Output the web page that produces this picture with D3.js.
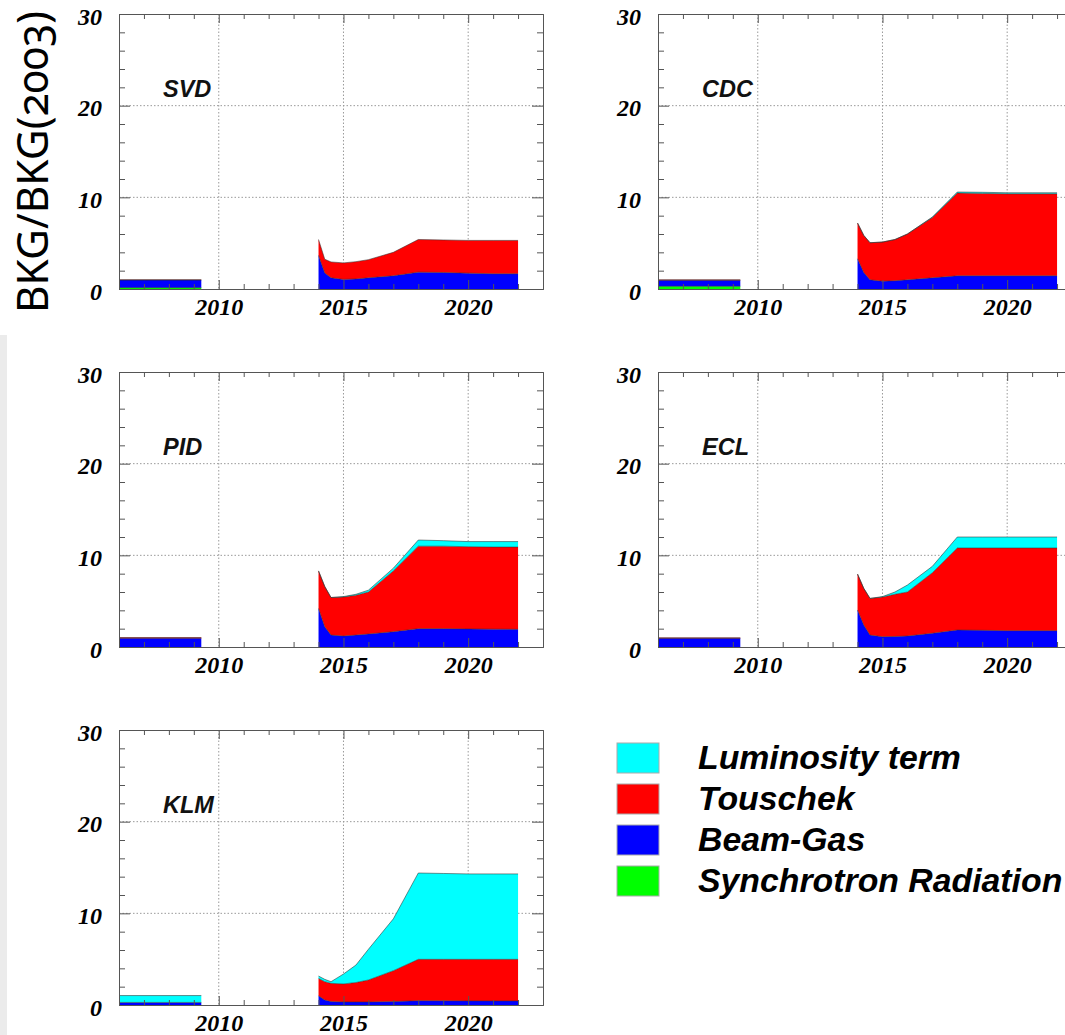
<!DOCTYPE html>
<html><head><meta charset="utf-8">
<script src="https://cdn.jsdelivr.net/npm/d3@7"></script>
<style>body{margin:0;background:#fff;} svg{display:block}</style>
</head><body><svg id="c" width="1065" height="1035"></svg>
<script>
// ---------------- data ----------------
const detectors = ["SVD", "CDC", "PID", "ECL", "KLM"];
const componentKeys = ["sync", "bg", "tous", "lumi"];
const componentLabels = ["Synchrotron Radiation", "Beam-Gas", "Touschek", "Luminosity term"];
const earlyYears = [2006, 2009.3];
const lateYears = [2014, 2014.25, 2014.5, 2015, 2015.5, 2016, 2017, 2018, 2019, 2020, 2021, 2022];
const xMajorTicks = [2010, 2015, 2020];
const xMinorTicks = [2007, 2008, 2009, 2011, 2012, 2013, 2014, 2016, 2017, 2018, 2019, 2021, 2022];
const yMajorTicks = [0, 10, 20, 30];
const yMinorTicks = [2, 4, 6, 8, 12, 14, 16, 18, 22, 24, 26, 28];

// early period values: [sync, beam-gas, touschek, luminosity]
const svdEarly = [0.15, 0.82, 0.04, 0];
const cdcEarly = [0.3, 0.65, 0.05, 0];
const pidEarly = [0, 0.95, 0.08, 0];
const eclEarly = [0, 0.95, 0.05, 0];
const klmEarly = [0, 0.28, 0, 0.75];

// SVD
const svdSync     = [0, 0, 0, 0, 0, 0, 0, 0, 0, 0, 0, 0];
const svdBeamGas  = [3.66, 1.75, 1.22, 1.05, 1.1, 1.22, 1.44, 1.84, 1.8, 1.73, 1.66, 1.66];
const svdTouschek = [1.74, 1.5, 1.73, 1.8, 1.88, 1.98, 2.56, 3.56, 3.55, 3.57, 3.64, 3.64];
const svdLumi     = [0, 0, 0, 0, 0, 0, 0, 0, 0, 0, 0, 0];
// CDC
const cdcSync     = [0, 0, 0, 0, 0, 0, 0, 0, 0, 0, 0, 0];
const cdcBeamGas  = [3.3, 1.8, 1.0, 0.85, 0.9, 1.0, 1.22, 1.44, 1.44, 1.44, 1.44, 1.44];
const cdcTouschek = [3.9, 4.05, 4.05, 4.27, 4.5, 5.0, 6.58, 9.02, 8.99, 8.94, 8.94, 8.94];
const cdcLumi     = [0, 0, 0, 0, 0, 0, 0.05, 0.12, 0.12, 0.12, 0.12, 0.12];
// PID
const pidSync     = [0, 0, 0, 0, 0, 0, 0, 0, 0, 0, 0, 0];
const pidBeamGas  = [4.2, 2.2, 1.3, 1.2, 1.3, 1.42, 1.67, 2.0, 2.0, 1.97, 1.95, 1.93];
const pidTouschek = [4.1, 4.4, 4.1, 4.25, 4.35, 4.58, 6.63, 9.0, 9.0, 8.97, 8.95, 8.97];
const pidLumi     = [0, 0, 0, 0.05, 0.1, 0.2, 0.3, 0.67, 0.6, 0.56, 0.6, 0.6];
// ECL
const eclSync     = [0, 0, 0, 0, 0, 0, 0, 0, 0, 0, 0, 0];
const eclBeamGas  = [4.03, 2.4, 1.3, 1.12, 1.15, 1.2, 1.5, 1.85, 1.82, 1.78, 1.78, 1.78];
const eclTouschek = [3.93, 4.0, 4.0, 4.33, 4.6, 4.8, 6.6, 8.95, 8.98, 9.02, 9.02, 9.02];
const eclLumi     = [0, 0, 0, 0.05, 0.25, 0.76, 0.7, 1.2, 1.2, 1.2, 1.2, 1.2];
// KLM
const klmSync     = [0, 0, 0, 0, 0, 0, 0, 0, 0, 0, 0, 0];
const klmBeamGas  = [1.0, 0.55, 0.37, 0.33, 0.33, 0.33, 0.37, 0.47, 0.46, 0.45, 0.44, 0.44];
const klmTouschek = [1.9, 2.0, 1.99, 1.97, 2.12, 2.4, 3.37, 4.51, 4.52, 4.53, 4.54, 4.54];
const klmLumi     = [0.26, 0.25, 0.18, 1.08, 1.91, 3.35, 5.66, 9.42, 9.37, 9.32, 9.32, 9.32];

// ---------------- drawing ----------------
const svg = d3.select("#c");
svg.append("rect").attr("x", 0).attr("y", 335).attr("width", 7).attr("height", 700).attr("fill", "#ebebeb");

const colors = {sync: "#00ff00", bg: "#0000ff", tous: "#ff0000", lumi: "#00ffff"};
const panels = [
  {name: "SVD", col: 0, row: 0, early: svdEarly, late: {sync: svdSync, bg: svdBeamGas, tous: svdTouschek, lumi: svdLumi}},
  {name: "CDC", col: 1, row: 0, early: cdcEarly, late: {sync: cdcSync, bg: cdcBeamGas, tous: cdcTouschek, lumi: cdcLumi}},
  {name: "PID", col: 0, row: 1, early: pidEarly, late: {sync: pidSync, bg: pidBeamGas, tous: pidTouschek, lumi: pidLumi}},
  {name: "ECL", col: 1, row: 1, early: eclEarly, late: {sync: eclSync, bg: eclBeamGas, tous: eclTouschek, lumi: eclLumi}},
  {name: "KLM", col: 0, row: 2, early: klmEarly, late: {sync: klmSync, bg: klmBeamGas, tous: klmTouschek, lumi: klmLumi}}
];
const colX = [119, 658], rowY = [14, 372, 730], W = 424, H = 275;
const serif = "'Liberation Serif','DejaVu Serif',serif";
const sans = "'Liberation Sans',Arial,Helvetica,sans-serif";

panels.forEach(p => {
  const g = svg.append("g").attr("transform", `translate(${colX[p.col]},${rowY[p.row]})`);
  const x = d3.scaleLinear().domain([2006, 2023]).range([0, W]);
  const y = d3.scaleLinear().domain([0, 30]).range([H, 0]);

  // grid
  g.append("g").selectAll("line").data(xMajorTicks).join("line")
    .attr("x1", d => x(d)).attr("x2", d => x(d)).attr("y1", 0).attr("y2", H)
    .attr("stroke", "#9a9a9a").attr("stroke-width", 1).attr("stroke-dasharray", "1.5,2");
  g.append("g").selectAll("line").data([10, 20]).join("line")
    .attr("x1", 0).attr("x2", W).attr("y1", d => y(d)).attr("y2", d => y(d))
    .attr("stroke", "#9a9a9a").attr("stroke-width", 1).attr("stroke-dasharray", "1.5,2");

  // stacked areas
  const segs = [
    earlyYears.map(yr => ({year: yr, sync: p.early[0], bg: p.early[1], tous: p.early[2], lumi: p.early[3]})),
    lateYears.map((yr, i) => ({year: yr, sync: p.late.sync[i], bg: p.late.bg[i], tous: p.late.tous[i], lumi: p.late.lumi[i]}))
  ];
  const area = d3.area().x(d => x(d.data.year)).y0(d => y(d[0])).y1(d => y(d[1]));
  const line = d3.line().x(d => x(d.data.year)).y(d => y(d[1]));
  segs.forEach(seg => {
    const stacked = d3.stack().keys(componentKeys)(seg);
    stacked.forEach(layer => {
      g.append("path").datum(layer).attr("fill", colors[layer.key]).attr("d", area);
    });
    stacked.forEach(layer => {
      if (d3.max(layer, d => d[1] - d[0]) > 0)
        g.append("path").datum(layer).attr("fill", "none").attr("stroke", "#333")
          .attr("stroke-width", 0.7).attr("stroke-opacity", 0.8).attr("d", line);
    });
  });

  // axes (frame)
  const axisStyle = sel => {
    sel.select(".domain").attr("stroke", "#555");
    sel.selectAll(".tick line").attr("stroke", "#555");
    sel.selectAll("text").attr("font-family", serif).attr("font-weight", "bold")
      .attr("font-style", "italic").attr("font-size", 24).attr("fill", "#000");
  };
  g.append("g").attr("transform", `translate(0,${H})`)
    .call(d3.axisBottom(x).tickValues(xMajorTicks).tickSize(-9).tickSizeOuter(0).tickPadding(9).tickFormat(d3.format("d")))
    .call(axisStyle);
  g.append("g").attr("transform", `translate(0,${H})`)
    .call(d3.axisBottom(x).tickValues(xMinorTicks).tickSize(-5).tickSizeOuter(0).tickFormat(""))
    .call(axisStyle);
  g.append("g")
    .call(d3.axisTop(x).tickValues(xMajorTicks).tickSize(-9).tickSizeOuter(0).tickFormat(""))
    .call(axisStyle);
  g.append("g")
    .call(d3.axisTop(x).tickValues(xMinorTicks).tickSize(-5).tickSizeOuter(0).tickFormat(""))
    .call(axisStyle);
  g.append("g")
    .call(d3.axisLeft(y).tickValues(yMajorTicks).tickSize(-11).tickSizeOuter(0).tickPadding(17).tickFormat(d3.format("d")))
    .call(axisStyle)
    .call(s => s.selectAll("text").attr("dy", "0.42em"));
  g.append("g")
    .call(d3.axisLeft(y).tickValues(yMinorTicks).tickSize(-6).tickSizeOuter(0).tickFormat(""))
    .call(axisStyle);
  g.append("g").attr("transform", `translate(${W},0)`)
    .call(d3.axisRight(y).tickValues(yMajorTicks).tickSize(-11).tickSizeOuter(0).tickFormat(""))
    .call(axisStyle);
  g.append("g").attr("transform", `translate(${W},0)`)
    .call(d3.axisRight(y).tickValues(yMinorTicks).tickSize(-6).tickSizeOuter(0).tickFormat(""))
    .call(axisStyle);

  // detector title
  g.append("text").attr("x", 44).attr("y", 83).text(p.name)
    .attr("font-family", sans).attr("font-weight", "bold").attr("font-style", "italic")
    .attr("font-size", 23.5).attr("fill", "#111");
});

// y-axis title
svg.append("text").attr("transform", "translate(48,162) rotate(-90)")
  .attr("text-anchor", "middle").attr("font-family", "'Noto Sans','Open Sans',sans-serif")
  .attr("font-size", 43).attr("textLength", 302).attr("lengthAdjust", "spacingAndGlyphs")
  .style("font-feature-settings", "'onum'")
  .attr("fill", "#000").text("BKG/BKG(2003)");

// legend
const legendOrder = [3, 2, 1, 0];
const legendY = [743, 784, 825, 866];
const lg = svg.append("g");
legendOrder.forEach((ci, i) => {
  lg.append("rect").attr("x", 617).attr("y", legendY[i]).attr("width", 42).attr("height", 30)
    .attr("fill", colors[componentKeys[ci]]).attr("stroke", "#aaa").attr("stroke-width", 1);
  lg.append("text").attr("x", 698).attr("y", legendY[i] + 26).text(componentLabels[ci])
    .attr("font-family", sans).attr("font-weight", "bold").attr("font-style", "italic")
    .attr("font-size", 33.8).attr("fill", "#000");
});
</script></body></html>
